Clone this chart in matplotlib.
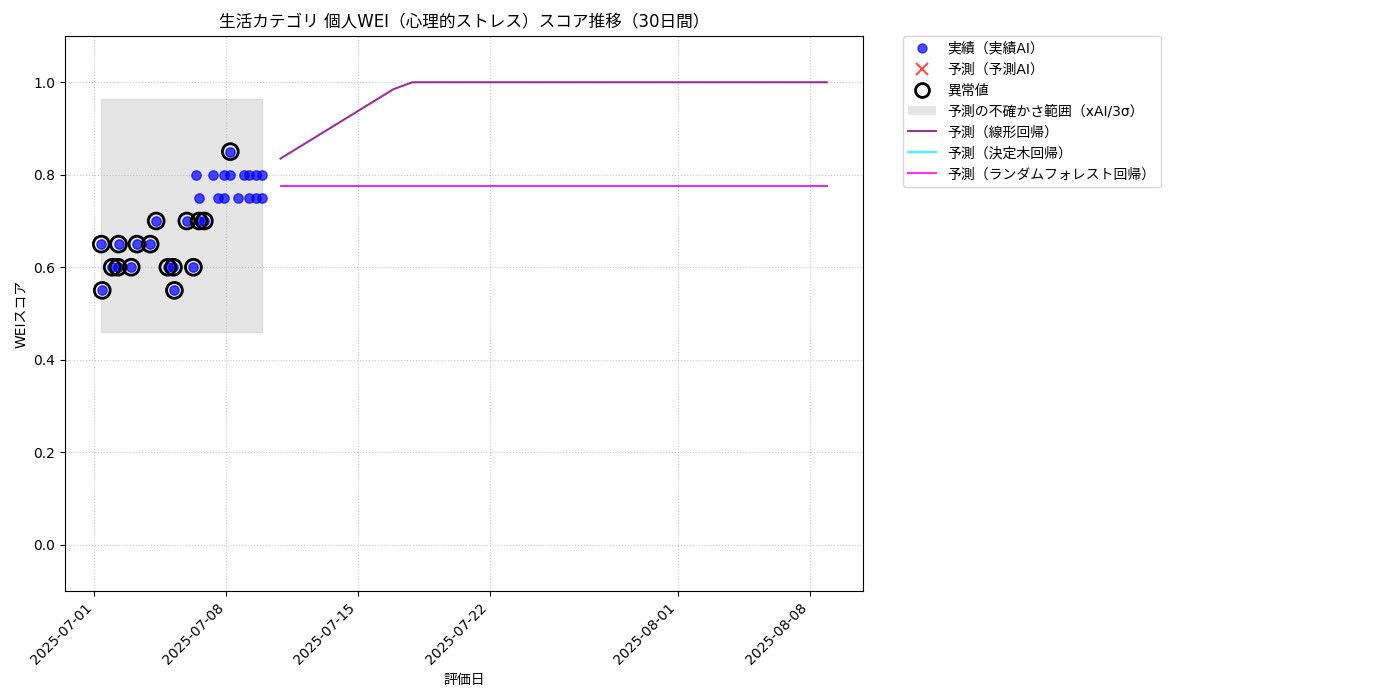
import pandas as pd
import matplotlib
matplotlib.use("Agg")
import matplotlib.pyplot as plt
from matplotlib.patches import Patch

plt.rcParams['font.family'] = ['DejaVu Sans', 'Noto Sans CJK JP']

dates = ["2025-07-01 08:54", "2025-07-01 10:10", "2025-07-01 22:54", "2025-07-02 06:09",
         "2025-07-02 06:55", "2025-07-02 23:04", "2025-07-03 06:19", "2025-07-03 23:14",
         "2025-07-04 06:52", "2025-07-04 21:45", "2025-07-05 04:51", "2025-07-05 06:07",
         "2025-07-05 21:55", "2025-07-06 06:17", "2025-07-06 09:43", "2025-07-06 13:32",
         "2025-07-06 13:55", "2025-07-06 20:17", "2025-07-07 06:58", "2025-07-07 14:05",
         "2025-07-07 21:43", "2025-07-07 21:43", "2025-07-08 05:21", "2025-07-08 05:21",
         "2025-07-08 14:46", "2025-07-08 22:24", "2025-07-09 05:31", "2025-07-09 05:31",
         "2025-07-09 14:02", "2025-07-09 14:02", "2025-07-09 21:17", "2025-07-09 21:17"]
scores = [0.65, 0.55, 0.60, 0.60, 0.65, 0.60, 0.65, 0.65,
          0.70, 0.60, 0.60, 0.55, 0.70, 0.60, 0.80, 0.70,
          0.75, 0.70, 0.80, 0.75, 0.80, 0.75, 0.85, 0.80,
          0.75, 0.80, 0.80, 0.75, 0.80, 0.75, 0.80, 0.75]
outlier = [1, 1, 1, 1, 1, 1, 1, 1,
           1, 1, 1, 1, 1, 1, 0, 1,
           0, 1, 0, 0, 0, 0, 1, 0,
           0, 0, 0, 0, 0, 0, 0, 0]

band_low = 0.461
band_high = 0.963

pred_linear = [0.835, 0.86, 0.885, 0.91, 0.935, 0.96, 0.985] + [1.0] * 23
pred_tree = [0.775] * 30
pred_forest = [0.775] * 30

df = pd.DataFrame({'date': pd.to_datetime(dates), 'score': scores, 'outlier': outlier})
out = df[df['outlier'] == 1]
fdates = pd.date_range(df['date'].max() + pd.Timedelta(days=1), periods=30, freq='D')

fig = plt.figure(figsize=(14, 7), dpi=100)
ax = fig.add_axes((65/1400, 1-591/700, 798/1400, 555/700))

ax.fill_between([df['date'].min(), df['date'].max()], band_low, band_high,
                color='gray', alpha=0.2, zorder=1)
ax.scatter(df['date'], df['score'], color='blue', alpha=0.7, s=45, zorder=3)
ax.scatter([], [], color='red', marker='x', alpha=0.7, s=80)
ax.scatter(out['date'], out['score'], facecolors='none', edgecolors='black',
           s=130, linewidths=2, zorder=4)
ax.plot(fdates, pred_linear, color='purple', alpha=0.8, lw=1.5, zorder=2)
ax.plot(fdates, pred_tree, color='cyan', alpha=0.8, lw=1.5, zorder=2)
ax.plot(fdates, pred_forest, color='magenta', alpha=0.8, lw=1.5, zorder=2)

ax.set_ylim(-0.1, 1.1)
ax.grid(True, linestyle=':', alpha=0.7)
ax.set_title('生活カテゴリ 個人WEI（心理的ストレス）スコア推移（30日間）', fontsize=12)
ax.set_xlabel('評価日')
ax.set_ylabel('WEIスコア')
plt.setp(ax.get_xticklabels(), rotation=45, ha='right')

handles = [
    plt.Line2D([], [], marker='o', ls='', color='blue', alpha=0.7, markersize=6.5),
    plt.Line2D([], [], marker='x', ls='', color='red', alpha=0.7, markersize=9, mew=1.5),
    plt.Line2D([], [], marker='o', ls='', markerfacecolor='none', markeredgecolor='black',
               markersize=10, mew=2),
    Patch(facecolor='gray', alpha=0.2),
    plt.Line2D([], [], color='purple', alpha=0.8, lw=1.5),
    plt.Line2D([], [], color='cyan', alpha=0.8, lw=1.5),
    plt.Line2D([], [], color='magenta', alpha=0.8, lw=1.5),
]
labels = ['実績（実績AI）', '予測（予測AI）', '異常値', '予測の不確かさ範囲（xAI/3σ）',
          '予測（線形回帰）', '予測（決定木回帰）', '予測（ランダムフォレスト回帰）']
ax.legend(handles, labels, bbox_to_anchor=(1.05, 1), loc='upper left', borderaxespad=0)

fig.savefig('out.png', dpi=100)
